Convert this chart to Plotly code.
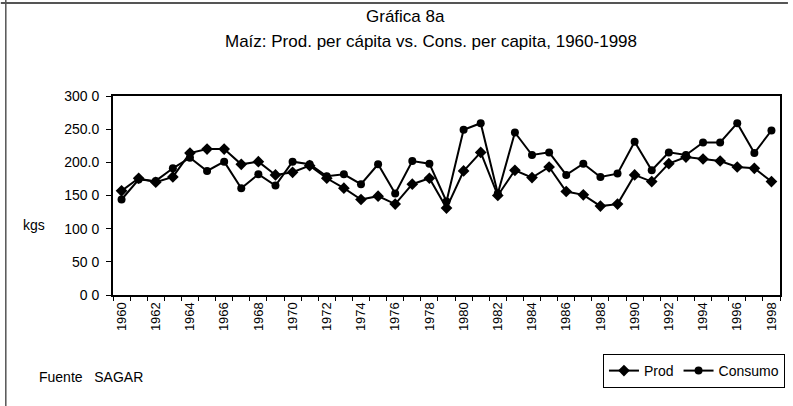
import plotly.graph_objects as go

years = list(range(1960, 1999))
prod = [157, 176, 170, 178, 214, 220, 220, 197, 201, 181,
        185, 195, 176, 161, 144, 149, 137, 167, 176, 131,
        187, 215, 150, 188, 177, 193, 156, 151, 134, 137,
        181, 171, 198, 208, 205, 202, 193, 191, 171]
consumo = [144, 174, 172, 191, 207, 187, 201, 161, 182, 165,
           201, 197, 179, 182, 167, 197, 153, 202, 198, 141,
           249, 259, 153, 245, 211, 215, 181, 198, 178, 183,
           231, 188, 215, 211, 230, 230, 259, 214, 248]
y_tickvals = [0, 50, 100, 150, 200, 250, 300]
y_ticktext = ["0 0", "50 0", "100 0", "150 0", "200.0", "250.0", "300 0"]

xcat = [str(y) for y in years]
xtext = [str(y) if y % 2 == 0 else "" for y in years]

FONT = "Liberation Sans, Arial, sans-serif"

fig = go.Figure()
fig.add_trace(go.Scatter(x=xcat, y=prod, name="Prod", mode="lines+markers",
                         line=dict(color="black", width=2),
                         marker=dict(symbol="diamond", size=9, color="black")))
fig.add_trace(go.Scatter(x=xcat, y=consumo, name="Consumo", mode="lines+markers",
                         line=dict(color="black", width=2),
                         marker=dict(symbol="circle", size=8, color="black")))

L, R, T, B = 113, 8, 96, 111
W, H = 793, 406
pw, ph = W - L - R, H - T - B

def px(xp):
    return (xp - L) / pw

def py(yp):
    return (H - B - yp) / ph

fig.update_layout(
    width=W, height=H,
    margin=dict(l=L, r=R, t=T, b=B),
    paper_bgcolor="white", plot_bgcolor="white",
    font=dict(family=FONT, color="black", size=13),
    showlegend=True,
    legend=dict(orientation="h", x=px(790), xanchor="right", y=py(354), yanchor="top",
                bordercolor="black", borderwidth=1, font=dict(size=14, family=FONT),
                itemwidth=30, tracegroupgap=0),
    xaxis=dict(type="category", tickmode="array", tickvals=xcat, ticktext=xtext,
               tickangle=-90, tickson="boundaries", ticks="outside", ticklen=4,
               tickcolor="black", showline=True, linecolor="black", linewidth=2,
               mirror=True, showgrid=False, range=[-0.5, 38.5],
               tickfont=dict(size=13, family=FONT)),
    yaxis=dict(range=[0, 300], tickmode="array", tickvals=y_tickvals, ticktext=y_ticktext,
               ticks="outside", ticklen=5, tickcolor="black", showline=True,
               linecolor="black", linewidth=2, mirror=True, showgrid=False,
               zeroline=False, tickfont=dict(size=14, family=FONT), ticklabelstandoff=4),
    annotations=[
        dict(text="Gráfica 8a", x=px(408), y=py(16), xref="paper", yref="paper",
             showarrow=False, font=dict(size=17, family=FONT), xanchor="center", yanchor="middle"),
        dict(text="Maíz: Prod. per cápita vs. Cons. per capita, 1960-1998", x=px(433), y=py(42),
             xref="paper", yref="paper", showarrow=False, font=dict(size=17, family=FONT),
             xanchor="center", yanchor="middle"),
        dict(text="kgs", x=px(20), y=py(225), xref="paper", yref="paper", showarrow=False,
             font=dict(size=14, family=FONT), xanchor="left", yanchor="middle"),
        dict(text="Fuente   SAGAR", x=px(36), y=py(377), xref="paper", yref="paper",
             showarrow=False, font=dict(size=14, family=FONT), xanchor="left", yanchor="middle"),
    ],
    shapes=[
        dict(type="line", xref="paper", yref="paper", x0=px(5), x1=px(5), y0=py(0), y1=py(406),
             line=dict(color="#555555", width=1.5)),
        dict(type="line", xref="paper", yref="paper", x0=px(0), x1=px(793), y0=py(3), y1=py(3),
             line=dict(color="#555555", width=2)),
    ],
)

fig.write_html("out.html", config={"displayModeBar": False},
               post_script="document.body.style.margin='0';")
